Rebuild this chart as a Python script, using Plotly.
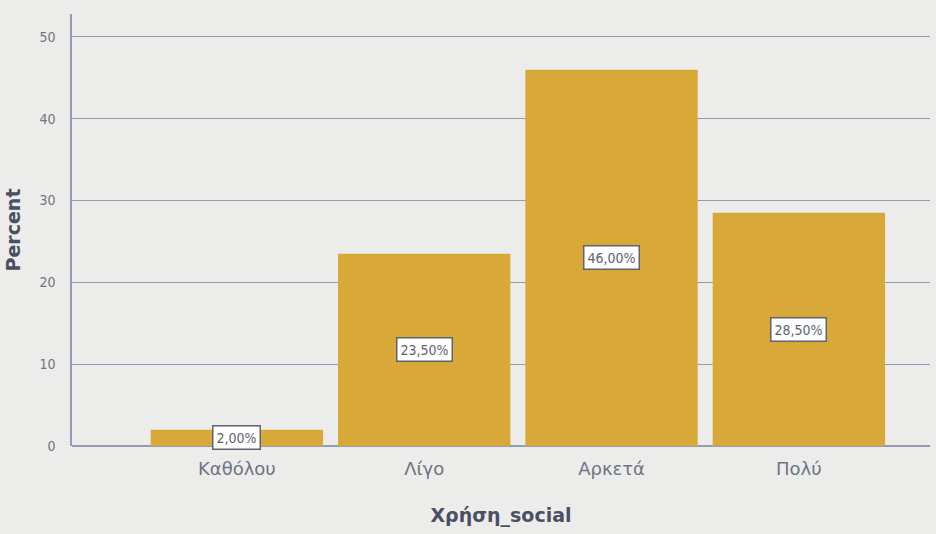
import plotly.graph_objects as go

categories = ["Καθόλου", "Λίγο", "Αρκετά", "Πολύ"]
percents = [2.00, 23.50, 46.00, 28.50]
y_ticks = [0, 10, 20, 30, 40, 50]

bar_color = "#D8A838"
grid_color = "#949CB5"
text_color = "#6E7485"
bg_color = "#ECEDEB"

fig = go.Figure()
fig.add_trace(go.Bar(
    x=categories,
    y=percents,
    marker=dict(color=bar_color, line=dict(width=0)),
    hoverinfo="skip",
))

# value labels boxed at mid-height of each bar
for cat, val in zip(categories, percents):
    fig.add_annotation(
        x=cat, y=val / 2,
        text=f"{val:.2f}%".replace(".", ","),
        showarrow=False,
        font=dict(family="DejaVu Sans Condensed, DejaVu Sans", size=14, color="#5E6273"),
        bgcolor="white",
        bordercolor="#5E6273",
        borderwidth=1.5,
        borderpad=3,
    )

fig.update_layout(
    width=936, height=534,
    margin=dict(l=72, r=6, t=14, b=88),
    paper_bgcolor=bg_color,
    plot_bgcolor=bg_color,
    bargap=0.08,
    showlegend=False,
    xaxis=dict(
        range=[-0.88, 3.7],
        tickfont=dict(family="DejaVu Sans", size=18, color=text_color),
        ticklabelstandoff=10,
        title=dict(text="<b>Χρήση_social</b>",
                   font=dict(family="DejaVu Sans", size=19, color="#4A4F63"),
                   standoff=30),
        showgrid=False,
        showline=False,
        ticks="",
    ),
    yaxis=dict(
        range=[0, 52.8],
        tickvals=y_ticks,
        tickfont=dict(family="DejaVu Sans Condensed, DejaVu Sans", size=14, color=text_color),
        title=dict(text="<b>Percent</b>",
                   font=dict(family="DejaVu Sans", size=19, color="#4A4F63"),
                   standoff=14),
        showgrid=True,
        gridcolor=grid_color,
        gridwidth=1.2,
        zeroline=True,
        zerolinecolor=grid_color,
        zerolinewidth=1.5,
        showline=True,
        linecolor=grid_color,
        linewidth=1.5,
        ticks="",
        ticklabelstandoff=12,
    ),
)

fig.write_html("out.html")
